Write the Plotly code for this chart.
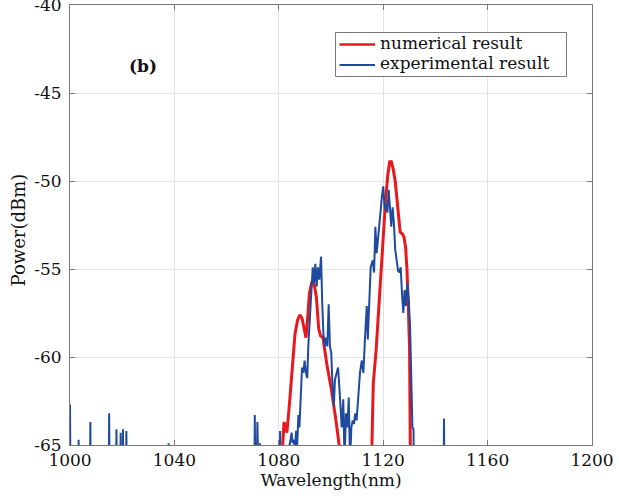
import plotly.graph_objects as go

# ---------------- data ----------------
num_wavelength = [1081.3, 1082.0, 1082.5, 1083.1, 1084.0, 1085.0, 1086.2, 1087.2, 1088.1, 1088.9,
                  1089.7, 1090.4, 1091.0, 1091.7, 1092.7, 1093.6, 1094.4, 1095.3, 1096.0, 1096.9,
                  1098.5, 1100.1, 1101.8, 1103.3, None,
                  1115.6, 1116.2, 1117.3, 1118.3, 1119.2, 1120.1, 1120.9, 1121.8, 1122.5, 1123.1,
                  1123.8, 1124.6, 1125.3, 1125.9, 1126.5, 1127.3, 1128.0, 1128.6, 1129.1, 1129.6,
                  1130.1, 1130.4]
num_power = [-65.5, -63.7, -63.9, -64.3, -62.8, -60.8, -58.7, -57.9, -57.6, -57.8,
             -58.4, -58.9, -57.9, -56.4, -55.7, -55.9, -56.6, -58.4, -58.8, -58.9,
             -60.5, -61.8, -63.5, -65.2, None,
             -65.5, -61.5, -59.6, -57.2, -54.9, -52.8, -51.1, -49.6, -48.9, -48.9,
             -49.3, -50.0, -51.1, -52.2, -52.9, -53.0, -53.2, -53.8, -55.0, -57.0,
             -59.6, -65.5]

exp_wavelength = [1000.0, 1000.3, 1003.0, 1003.3, 1003.6, 1007.5, 1007.8, 1008.1, 1014.7, 1015.0,
                  1015.3, 1017.5, 1017.8, 1018.1, 1019.1, 1019.4, 1019.7, 1020.0, 1020.3, 1020.6,
                  1021.3, 1021.6, 1021.9, 1037.5, 1037.8, 1038.1, 1070.5, 1070.8, 1071.2, 1071.8,
                  1072.2, 1072.6, 1072.8, 1073.0,
                  1080.1, 1080.5, 1080.9, 1083.6, 1084.0, 1084.5, 1084.9, 1085.3, 1085.8, 1086.2,
                  1086.6, 1087.0, 1087.5, 1087.9, 1088.4, 1088.9, 1089.4, 1089.9, 1090.4, 1090.9,
                  1091.3, 1092.0, 1092.6, 1093.0, 1093.5, 1094.0, 1094.5, 1095.0, 1095.5, 1096.2,
                  1096.6, 1097.1, 1097.6, 1098.1, 1098.6, 1099.1, 1099.6, 1100.1, 1100.6, 1101.1,
                  1101.5, 1102.2, 1102.7, 1103.2, 1103.7, 1104.1, 1104.7, 1105.2, 1105.7, 1106.3,
                  1106.8, 1107.3, 1107.8, 1108.3, 1108.8, 1109.3, 1109.8, 1110.5, 1111.1, 1111.8,
                  1112.4, 1113.0, 1113.7, 1114.1, 1114.7, 1115.2, 1116.0, 1116.5, 1117.0, 1117.5,
                  1118.0, 1118.5, 1119.0, 1119.5, 1120.0, 1120.6, 1121.1, 1121.6, 1122.1, 1122.6,
                  1123.1, 1123.6, 1124.1, 1124.6, 1125.2, 1125.7, 1126.2, 1126.7, 1127.2, 1127.7,
                  1128.2, 1128.7, 1129.2, 1129.8, 1130.3, 1130.8, 1131.2, 1131.6, 1132.0,
                  1143.0, 1143.3, 1143.6]
exp_power = [-62.7, -70.0, -70.0, -64.7, -70.0, -70.0, -63.7, -70.0, -70.0, -63.2,
             -70.0, -70.0, -64.1, -70.0, -70.0, -64.3, -70.0, -70.0, -64.1, -70.0,
             -70.0, -64.2, -70.0, -70.0, -64.9, -70.0, -70.0, -63.3, -70.0, -63.7,
             -70.0, -70.0, -64.9, -70.0,
             -70.0, -64.2, -70.0, -70.0, -65.1, -64.7, -64.3, -64.9, -64.7, -65.3,
             -64.2, -65.2, -63.3, -64.0, -61.7, -60.6, -60.9, -60.2, -60.9, -61.2,
             -59.4, -57.3, -55.8, -54.9, -55.8, -54.7, -56.0, -54.9, -55.6, -54.3,
             -56.8, -58.7, -59.4, -58.9, -59.4, -57.0, -59.4, -59.8, -61.7, -62.8,
             -61.3, -60.9, -60.6, -61.7, -63.2, -64.0, -62.4, -66.0, -63.2, -64.0,
             -62.3, -66.0, -64.0, -63.6, -63.8, -63.2, -63.6, -62.1, -60.9, -60.2,
             -60.9, -59.0, -57.1, -59.0, -57.1, -54.9, -54.5, -55.2, -52.6, -54.1,
             -53.3, -52.4, -51.5, -50.9, -50.3, -51.6, -51.3, -51.8, -50.5, -51.5,
             -52.6, -51.5, -52.4, -53.9, -54.5, -55.1, -55.2, -54.9, -56.4, -57.5,
             -56.2, -57.1, -55.8, -56.8, -58.3, -61.2, -64.0, -64.1, -70.0,
             -70.0, -63.5, -70.0]

series_names = ["numerical result", "experimental result"]
x_ticks = [1000, 1040, 1080, 1120, 1160, 1200]
x_tick_labels = ["1000", "1040", "1080", "1120", "1160", "1200"]
y_ticks = [-65, -60, -55, -50, -45, -40]
y_tick_labels = ["-65", "-60", "-55", "-50", "-45", "-40"]

red = "#E8191C"
blue = "#1F4A9E"
axis_col = "#7a7a7a"
font_family = "DejaVu Serif"
txt_col = "#111111"

# plot area in pixels (for placing the legend box and labels)
PL, PR, PT, PB = 70, 592, 5, 445


def px_x(p):
    return (p - PL) / (PR - PL)


def px_y(p):
    return 1 - (p - PT) / (PB - PT)


fig = go.Figure()
fig.add_trace(go.Scatter(x=num_wavelength, y=num_power, mode="lines",
                         name=series_names[0], line=dict(color=red, width=3),
                         connectgaps=False))
fig.add_trace(go.Scatter(x=exp_wavelength, y=exp_power, mode="lines",
                         name=series_names[1], line=dict(color=blue, width=2)))

axis_common = dict(showline=True, linecolor=axis_col, linewidth=1, mirror="ticks",
                   ticks="inside", ticklen=5, tickcolor=axis_col, automargin=False,
                   ticklabeloverflow="allow",
                   showgrid=True, gridcolor="#e2e2e2", gridwidth=1, zeroline=False,
                   tickfont=dict(family=font_family, size=17, color=txt_col))

# legend box drawn as shapes + text
legend_rows = [(44.5, red, 2.5), (65.0, blue, 2)]
shapes = [dict(type="rect", xref="paper", yref="paper",
               x0=px_x(335.5), x1=px_x(566.5), y0=px_y(76.5), y1=px_y(32.5),
               line=dict(color="#7a7a7a", width=1), fillcolor="white", layer="above")]
annotations = [
    dict(x=px_x(143), y=px_y(66), xref="paper", yref="paper", text="(b)",
         xanchor="center", yanchor="middle", showarrow=False,
         font=dict(family=font_family, size=17, color=txt_col, weight="bold")),
    dict(x=px_x(17.5), y=px_y(230), xref="paper", yref="paper", text="Power(dBm)",
         xanchor="center", yanchor="middle", textangle=-90, showarrow=False,
         font=dict(family=font_family, size=18, color=txt_col)),
]
for (ry, col, lw), name in zip(legend_rows, series_names):
    shapes.append(dict(type="line", xref="paper", yref="paper",
                       x0=px_x(339.5), x1=px_x(375), y0=px_y(ry), y1=px_y(ry),
                       line=dict(color=col, width=lw), layer="above"))
    annotations.append(dict(x=px_x(378), y=px_y(ry - 1.5), xref="paper", yref="paper",
                            text=name, showarrow=False, xanchor="left", yanchor="middle",
                            font=dict(family=font_family, size=17, color=txt_col)))

fig.update_layout(
    width=619, height=498,
    margin=dict(l=70, r=27, t=5, b=53),
    paper_bgcolor="white", plot_bgcolor="white",
    showlegend=False,
    xaxis=dict(range=[1000, 1200], tickvals=x_ticks, ticktext=x_tick_labels,
               title=dict(text="Wavelength(nm)", standoff=0,
                          font=dict(family=font_family, size=17, color=txt_col)),
               **axis_common),
    yaxis=dict(range=[-65, -40], tickvals=y_ticks, ticktext=y_tick_labels,
               ticklabelstandoff=4,
               **axis_common),
    shapes=shapes,
    annotations=annotations,
)

fig.write_html("out.html", config={"displayModeBar": False},
               post_script="document.body.style.margin='0';")
